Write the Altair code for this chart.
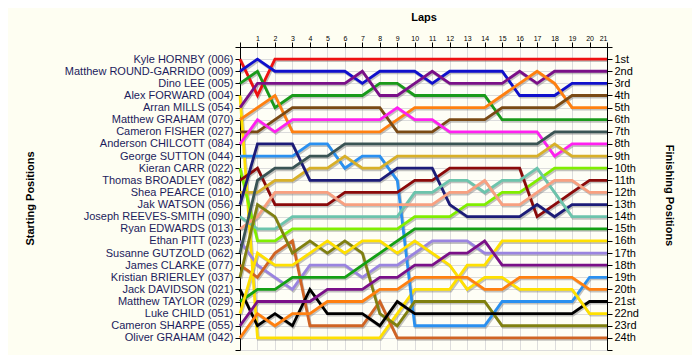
import json
import altair as alt
import pandas as pd

drivers = [
    "Kyle HORNBY (006)", "Matthew ROUND-GARRIDO (009)", "Dino LEE (005)",
    "Alex FORWARD (004)", "Arran MILLS (054)", "Matthew GRAHAM (070)",
    "Cameron FISHER (027)", "Anderson CHILCOTT (084)", "George SUTTON (044)",
    "Kieran CARR (022)", "Thomas BROADLEY (082)", "Shea PEARCE (010)",
    "Jak WATSON (056)", "Joseph REEVES-SMITH (090)", "Ryan EDWARDS (013)",
    "Ethan PITT (023)", "Susanne GUTZOLD (062)", "James CLARKE (077)",
    "Kristian BRIERLEY (037)", "Jack DAVIDSON (021)", "Matthew TAYLOR (029)",
    "Luke CHILD (051)", "Cameron SHARPE (055)", "Oliver GRAHAM (042)",
]

colors = [
    "#ee1111", "#1010cc", "#1a9a1a", "#ffe000", "#7a1088", "#ff8010",
    "#7a4a14", "#ff20f0", "#2a90f0", "#80ee00", "#8b0a0a", "#d8b028",
    "#1c1c78", "#6cc4ac", "#f8a080", "#9a84e0", "#3a5454", "#d06424",
    "#808010", "#000000", "#14a014", "#ffe000", "#7a1088", "#ff8010",
]

finish_labels = [
    "1st", "2nd", "3rd", "4th", "5th", "6th", "7th", "8th", "9th", "10th",
    "11th", "12th", "13th", "14th", "15th", "16th", "17th", "18th", "19th",
    "20th", "21st", "22nd", "23rd", "24th",
]

laps = list(range(22))

# position of each driver (in starting order) at laps 0..21
lap_positions = [
    [1, 4, 1, 1, 1, 1, 1, 1, 1, 1, 1, 1, 1, 1, 1, 1, 1, 1, 1, 1, 1, 1],
    [2, 1, 2, 2, 2, 2, 2, 3, 2, 2, 2, 3, 2, 2, 2, 2, 4, 4, 4, 3, 3, 3],
    [3, 2, 5, 4, 4, 4, 4, 4, 3, 3, 4, 4, 4, 4, 4, 6, 6, 6, 6, 6, 6, 6],
    [4, 24, 24, 24, 24, 24, 24, 24, 24, 22, 20, 20, 20, 18, 18, 16, 16, 16, 16, 16, 16, 16],
    [5, 3, 3, 3, 3, 3, 3, 2, 4, 4, 3, 2, 3, 3, 3, 3, 2, 3, 2, 2, 2, 2],
    [6, 5, 4, 7, 7, 7, 7, 7, 7, 6, 5, 5, 5, 5, 5, 4, 3, 2, 3, 5, 5, 5],
    [7, 7, 6, 5, 5, 5, 5, 5, 5, 7, 7, 7, 6, 6, 6, 5, 5, 5, 5, 4, 4, 4],
    [8, 6, 7, 6, 6, 6, 6, 6, 6, 5, 6, 6, 7, 7, 7, 7, 7, 7, 9, 8, 8, 8],
    [9, 9, 9, 9, 8, 8, 10, 9, 9, 11, 23, 23, 23, 23, 23, 21, 21, 21, 21, 21, 19, 19],
    [10, 16, 16, 15, 15, 15, 15, 15, 15, 15, 14, 14, 14, 13, 13, 12, 12, 11, 10, 10, 10, 10],
    [11, 10, 13, 13, 13, 13, 12, 12, 12, 12, 11, 11, 10, 10, 10, 10, 10, 14, 13, 12, 11, 11],
    [12, 12, 11, 11, 10, 10, 9, 10, 10, 9, 9, 9, 9, 9, 9, 9, 9, 9, 8, 9, 9, 9],
    [13, 8, 8, 8, 11, 11, 11, 11, 11, 10, 10, 10, 13, 14, 14, 14, 14, 13, 14, 13, 13, 13],
    [14, 15, 15, 14, 14, 14, 14, 14, 14, 14, 12, 12, 11, 11, 12, 11, 11, 10, 12, 14, 14, 14],
    [15, 14, 12, 12, 12, 12, 13, 13, 13, 13, 13, 13, 12, 12, 11, 13, 13, 12, 11, 11, 12, 12],
    [16, 18, 19, 20, 18, 18, 18, 19, 18, 18, 17, 16, 16, 16, 17, 17, 17, 17, 17, 17, 17, 17],
    [17, 11, 10, 10, 9, 9, 8, 8, 8, 8, 8, 8, 8, 8, 8, 8, 8, 8, 7, 7, 7, 7],
    [18, 19, 17, 16, 23, 23, 23, 23, 21, 24, 24, 24, 24, 24, 24, 24, 24, 24, 24, 24, 24, 24],
    [19, 13, 14, 17, 16, 17, 16, 17, 22, 23, 21, 21, 21, 21, 21, 23, 23, 23, 23, 23, 23, 23],
    [20, 23, 22, 23, 20, 22, 22, 22, 23, 21, 22, 22, 22, 22, 22, 22, 22, 22, 22, 22, 21, 21],
    [21, 20, 20, 19, 19, 19, 19, 18, 17, 16, 15, 15, 15, 15, 15, 15, 15, 15, 15, 15, 15, 15],
    [22, 17, 18, 18, 17, 16, 17, 16, 16, 17, 16, 17, 18, 20, 19, 19, 20, 20, 20, 20, 22, 22],
    [23, 21, 21, 21, 21, 20, 20, 20, 19, 19, 18, 18, 17, 17, 16, 18, 18, 18, 18, 18, 18, 18],
    [24, 22, 23, 22, 22, 21, 21, 21, 20, 20, 19, 19, 19, 19, 20, 20, 19, 19, 19, 19, 20, 20],
]

rows = []
for d, name in enumerate(drivers):
    for lap, pos in zip(laps, lap_positions[d]):
        rows.append({"driver": name, "order": d, "lap": lap, "pos": pos})
df = pd.DataFrame(rows)

FONT = "Liberation Sans"
left_expr = json.dumps([""] + drivers + [""]) + "[datum.value]"
right_expr = json.dumps([""] + finish_labels + [""]) + "[datum.value]"

xscale = alt.Scale(domain=[0, 21], nice=False)
yscale = alt.Scale(domain=[0, 25], reverse=True, nice=False)
cscale = alt.Scale(domain=drivers, range=colors)


def x_axis():
    return alt.Axis(
        orient="top", values=laps, title="Laps",
        labelExpr="datum.value == 0 ? '' : datum.value",
        labelFontSize=7, labelFont=FONT, labelColor="#000000", labelPadding=1,
        tickSize=5, tickColor="#000000", domainColor="#000000",
        grid=True, gridColor="#dcdcdc",
        titleFont=FONT, titleFontSize=11, titleFontWeight="bold", titlePadding=12,
    )


shadow = alt.Chart(df).transform_calculate(
    ys="datum.pos + 0.13", xs="datum.lap + 0.06"
).mark_line(color="#7a7a7a", opacity=0.45, strokeWidth=2.8, clip=True).encode(
    x=alt.X("xs:Q", scale=xscale, axis=x_axis()),
    y=alt.Y("ys:Q", scale=yscale, axis=alt.Axis(
        orient="right", values=list(range(26)), labelExpr=right_expr,
        title="Finishing Positions", labelFont=FONT, labelFontSize=11,
        labelColor="#000000", tickSize=5, tickColor="#000000",
        domainColor="#000000", grid=False, labelPadding=2,
        titleFont=FONT, titleFontSize=11, titleFontWeight="bold",
        titleAngle=90, titleX=56, titleY=148,
    )),
    detail="driver:N",
    order="lap:Q",
)

lines = alt.Chart(df).mark_line(strokeWidth=2.8).encode(
    x=alt.X("lap:Q", scale=xscale, axis=x_axis()),
    y=alt.Y("pos:Q", scale=yscale, axis=alt.Axis(
        orient="left", values=list(range(26)), labelExpr=left_expr,
        title="Starting Positions", labelFont=FONT, labelFontSize=11,
        labelColor="#1c1c5c", tickSize=5, tickColor="#000000",
        domainColor="#000000", grid=True, gridColor="#dcdcdc",
        labelPadding=2,
        titleFont=FONT, titleFontSize=11, titleFontWeight="bold",
        titleAngle=-90, titleX=-205, titleY=151,
    )),
    color=alt.Color("driver:N", scale=cscale, legend=None),
    detail="driver:N",
    order="lap:Q",
)

chart = alt.layer(shadow, lines).resolve_axis(y="independent").properties(
    width=367, height=303,
    background="#fefef2",
    autosize=alt.AutoSizeParams(type="none"),
    padding={"left": 232, "top": 39, "right": 85, "bottom": 5},
).configure_view(strokeWidth=0, fill="#fefef6")

chart.save("out.html", embed_options={"renderer": "svg", "actions": False})
